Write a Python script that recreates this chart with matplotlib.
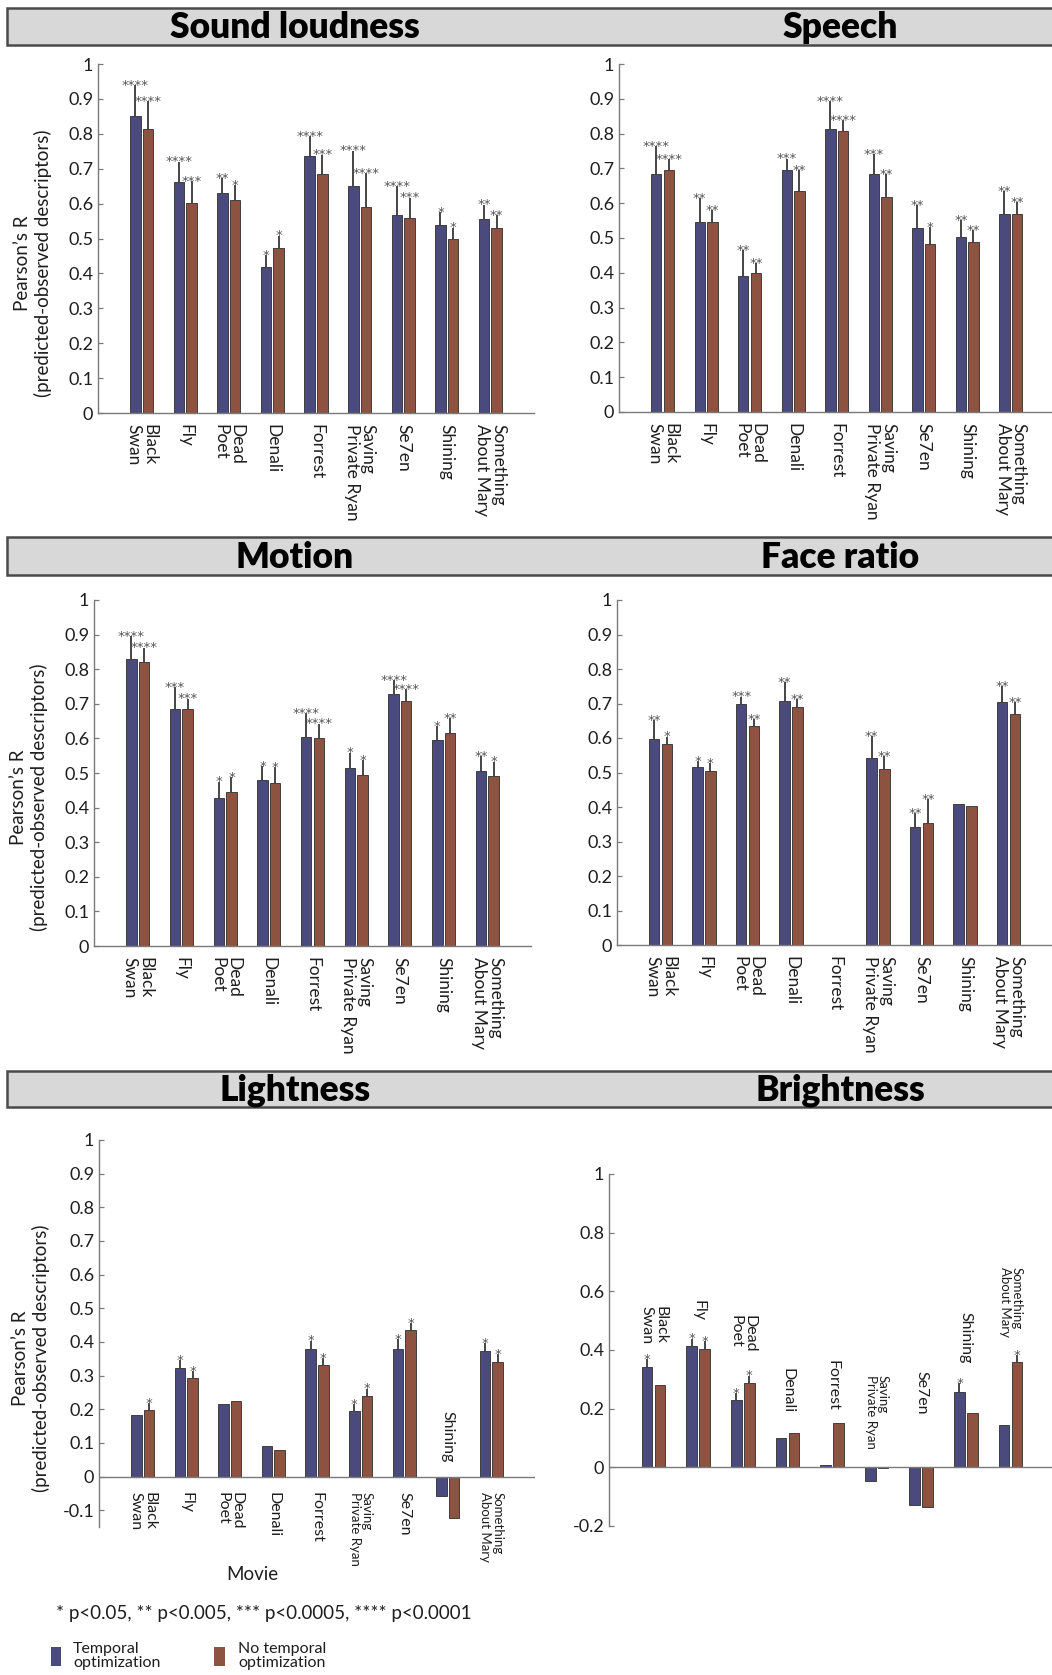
import numpy as np
import matplotlib
matplotlib.use("Agg")
import matplotlib.pyplot as plt
from matplotlib.patches import Rectangle

plt.rcParams['font.family'] = ['Lato', 'DejaVu Sans']

# ---------------------------------------------------------------- data
movies = ["Black\nSwan", "Fly", "Dead\nPoet", "Denali", "Forrest",
          "Saving\nPrivate Ryan", "Se7en", "Shining", "Something\nAbout Mary"]

# Sound loudness
loud_temporal = [0.852, 0.662, 0.630, 0.417, 0.736, 0.651, 0.568, 0.540, 0.555]
loud_temporal_err = [0.087, 0.058, 0.043, 0.036, 0.057, 0.101, 0.082, 0.036, 0.042]
loud_plain = [0.813, 0.603, 0.611, 0.474, 0.685, 0.589, 0.558, 0.500, 0.529]
loud_plain_err = [0.080, 0.061, 0.043, 0.034, 0.055, 0.099, 0.059, 0.031, 0.039]
loud_temporal_sig = ["****", "****", "**", "*", "****", "****", "****", "*", "**"]
loud_plain_sig = ["****", "***", "*", "*", "***", "****", "***", "*", "**"]

# Speech
speech_temporal = [0.683, 0.546, 0.391, 0.696, 0.813, 0.684, 0.528, 0.502, 0.569]
speech_temporal_err = [0.081, 0.068, 0.075, 0.032, 0.080, 0.056, 0.066, 0.049, 0.066]
speech_plain = [0.694, 0.547, 0.400, 0.636, 0.808, 0.619, 0.483, 0.488, 0.569]
speech_plain_err = [0.033, 0.033, 0.027, 0.060, 0.030, 0.065, 0.048, 0.034, 0.035]
speech_temporal_sig = ["****", "**", "**", "***", "****", "***", "**", "**", "**"]
speech_plain_sig = ["****", "**", "**", "**", "****", "**", "*", "**", "**"]

# Motion
motion_temporal = [0.829, 0.685, 0.429, 0.479, 0.605, 0.514, 0.729, 0.594, 0.507]
motion_temporal_err = [0.066, 0.063, 0.046, 0.041, 0.067, 0.045, 0.040, 0.042, 0.041]
motion_plain = [0.820, 0.685, 0.444, 0.472, 0.601, 0.493, 0.709, 0.617, 0.490]
motion_plain_err = [0.042, 0.030, 0.044, 0.045, 0.042, 0.044, 0.034, 0.041, 0.043]
motion_temporal_sig = ["****", "***", "*", "*", "****", "*", "****", "*", "**"]
motion_plain_sig = ["****", "***", "*", "*", "****", "*", "****", "**", "*"]

# Face ratio
face_temporal = [0.597, 0.515, 0.698, 0.708, 0.0, 0.541, 0.342, 0.408, 0.703]
face_temporal_err = [0.055, 0.019, 0.022, 0.053, 0.0, 0.065, 0.041, 0.0, 0.048]
face_plain = [0.583, 0.505, 0.635, 0.691, 0.0, 0.510, 0.354, 0.403, 0.669]
face_plain_err = [0.021, 0.022, 0.020, 0.021, 0.0, 0.038, 0.069, 0.0, 0.036]
face_temporal_sig = ["**", "*", "***", "**", "", "**", "**", "", "**"]
face_plain_sig = ["*", "*", "**", "**", "", "**", "**", "", "**"]

# Lightness
light_temporal = [0.183, 0.323, 0.216, 0.092, 0.378, 0.195, 0.378, -0.058, 0.373]
light_temporal_err = [0.0, 0.022, 0.0, 0.0, 0.026, 0.021, 0.030, 0.0, 0.023]
light_plain = [0.198, 0.293, 0.224, 0.078, 0.331, 0.239, 0.434, -0.124, 0.341]
light_plain_err = [0.020, 0.020, 0.0, 0.0, 0.021, 0.022, 0.021, 0.0, 0.023]
light_temporal_sig = ["", "*", "", "", "*", "*", "*", "", "*"]
light_plain_sig = ["*", "*", "", "", "*", "*", "*", "", "*"]

# Brightness
bright_temporal = [0.341, 0.414, 0.228, 0.101, 0.007, -0.047, -0.128, 0.257, 0.143]
bright_temporal_err = [0.028, 0.025, 0.024, 0.0, 0.0, 0.0, 0.0, 0.029, 0.0]
bright_plain = [0.279, 0.403, 0.288, 0.116, 0.152, -0.002, -0.135, 0.185, 0.358]
bright_plain_err = [0.0, 0.026, 0.025, 0.0, 0.0, 0.0, 0.0, 0.0, 0.025]
bright_temporal_sig = ["*", "*", "*", "", "", "", "", "*", ""]
bright_plain_sig = ["", "*", "*", "", "", "", "", "", "*"]

legend_labels = ["Temporal\noptimization", "No temporal\noptimization"]
footnote = "* p<0.05, ** p<0.005, *** p<0.0005, **** p<0.0001"
ylabel = "Pearson\u2019s R\n(predicted-observed descriptors)"

# ---------------------------------------------------------------- style
BLUE = "#4b4a7c"
BROWN = "#8e5340"
EDGE = "#2e2e2e"
ERR = "#262626"
SPINE = "#7a7a7a"
TXT = "#1e1e1e"
STAR = "#555555"
WIDTH = 0.24
OFF = 0.145

# label heights (data units) for the movie names written above the bars
bright_label_y = [0.42, 0.50, 0.39, 0.185, 0.194, 0.063, 0.181, 0.353, 0.445]

W, H = 1052, 1675
fig = plt.figure(figsize=(W / 100, H / 100), dpi=100)


def fx(x):
    return x / W


def fy(y):
    return 1 - y / H


def make_axes(left, right, top, bottom):
    return fig.add_axes([fx(left), fy(bottom), (right - left) / W, (bottom - top) / H])


def banner(top, bottom, titles):
    fig.add_artist(Rectangle((fx(7), fy(bottom)), fx(1070) - fx(7), (bottom - top) / H,
                             transform=fig.transFigure, facecolor="#d8d8d8",
                             edgecolor="#4a4a4a", lw=1.8, zorder=0))
    for xc, t in titles:
        fig.text(fx(xc), fy((top + bottom) / 2 + 1), t, ha="center", va="center",
                 fontsize=25.5, fontweight="heavy", color="#000000")


def draw_bars(ax, t, te, p, pe, ts, ps):
    x = np.arange(1, len(t) + 1)
    t, te, p, pe = map(np.asarray, (t, te, p, pe))
    ax.bar(x - OFF, t, WIDTH, color=BLUE, edgecolor=EDGE, lw=0.6, zorder=2)
    ax.bar(x + OFF, p, WIDTH, color=BROWN, edgecolor=EDGE, lw=0.6, zorder=2)
    for xs, vals, errs, sig in ((x - OFF, t, te, ts), (x + OFF, p, pe, ps)):
        m = errs > 0
        if m.any():
            ax.errorbar(xs[m], vals[m], yerr=[np.zeros(m.sum()), errs[m]], fmt="none",
                        ecolor=ERR, elinewidth=1.2, capsize=0, zorder=1)
        for xi, v, e, s in zip(xs, vals, errs, sig):
            if s:
                ax.annotate(s, xy=(xi, max(v, 0) + e), xytext=(0, -2.7),
                            textcoords="offset points", ha="center", va="baseline",
                            fontsize=9.5, family="DejaVu Sans", color=STAR,
                            annotation_clip=False)
    return x


def style_axes(ax, ymin, ymax, ticks, ticklabels, xmax):
    ax.set_xlim(0, xmax)
    ax.set_ylim(ymin, ymax)
    ax.set_yticks(ticks)
    ax.set_yticklabels(ticklabels)
    for s in ("top", "right"):
        ax.spines[s].set_visible(False)
    for s in ("left", "bottom"):
        ax.spines[s].set_color(SPINE)
        ax.spines[s].set_linewidth(1.0)
    ax.tick_params(axis="y", direction="in", length=3.5, width=0.9, color=SPINE,
                   labelsize=13, labelcolor=TXT, pad=3.5)
    ax.patch.set_alpha(0)


def tick_labels_below(ax, x):
    ax.set_xticks(x)
    ax.set_xticklabels(movies, rotation=-90, ha="center", va="top",
                       multialignment="left", fontsize=12.5, color=TXT, linespacing=1.0)
    ax.tick_params(axis="x", length=0, pad=8)


tick01 = np.round(np.arange(0, 1.01, 0.1), 1)
tick01_lbl = ["0"] + [f"{v:.1f}" for v in tick01[1:-1]] + ["1"]

# ---------------------------------------------------------------- banners
banner(8, 45, [(295, "Sound loudness"), (840, "Speech")])
banner(537, 575, [(295, "Motion"), (840, "Face ratio")])
banner(1071, 1107, [(295, "Lightness"), (840, "Brightness")])

# ---------------------------------------------------------------- rows 1-2
grid = [
    ((98, 534, 64, 413), 10.0, True,
     (loud_temporal, loud_temporal_err, loud_plain, loud_plain_err, loud_temporal_sig, loud_plain_sig)),
    ((619, 1052, 64, 412), 9.95, False,
     (speech_temporal, speech_temporal_err, speech_plain, speech_plain_err, speech_temporal_sig, speech_plain_sig)),
    ((94, 531, 600, 946), 10.0, True,
     (motion_temporal, motion_temporal_err, motion_plain, motion_plain_err, motion_temporal_sig, motion_plain_sig)),
    ((617, 1052, 600, 945), 10.0, False,
     (face_temporal, face_temporal_err, face_plain, face_plain_err, face_temporal_sig, face_plain_sig)),
]
for box, xmax, with_ylabel, series in grid:
    ax = make_axes(*box)
    x = draw_bars(ax, *series)
    style_axes(ax, 0, 1, tick01, tick01_lbl, xmax)
    tick_labels_below(ax, x)
    if with_ylabel:
        ax.set_ylabel(ylabel, fontsize=13.5, color=TXT, linespacing=1.2)
        ax.yaxis.set_label_coords(-0.106, 0.43)

# ---------------------------------------------------------------- Lightness
ax = make_axes(99, 535, 1140, 1527)
x = draw_bars(ax, light_temporal, light_temporal_err, light_plain, light_plain_err,
              light_temporal_sig, light_plain_sig)
lt = np.round(np.arange(-0.1, 1.01, 0.1), 1)
lt_lbl = ["-0.1", "0"] + [f"{v:.1f}" for v in lt[2:-1]] + ["1"]
style_axes(ax, -0.15, 1, lt, lt_lbl, 10.0)
ax.spines["bottom"].set_visible(False)
ax.axhline(0, color=SPINE, lw=1.0, zorder=3)
ax.set_xticks([])
for xi, name, a, b in zip(x, movies, light_temporal, light_plain):
    small = "\n" in name and len(name) > 12
    above = max(a, b) < 0
    ax.annotate(name, xy=(xi, 0), xytext=(0, 10 if above else -11), textcoords="offset points",
                rotation=-90, ha="center", va="bottom" if above else "top",
                multialignment="left", fontsize=9.5 if small else 11.5, color=TXT,
                linespacing=1.0)
ax.set_ylabel(ylabel, fontsize=13.5, color=TXT, linespacing=1.2)
ax.yaxis.set_label_coords(-0.112, 0.435)

# ---------------------------------------------------------------- Brightness
ax = make_axes(609, 1052, 1174, 1526)
x = draw_bars(ax, bright_temporal, bright_temporal_err, bright_plain, bright_plain_err,
              bright_temporal_sig, bright_plain_sig)
bt = np.round(np.arange(-0.2, 1.01, 0.2), 1)
bt_lbl = ["-0.2", "0", "0.2", "0.4", "0.6", "0.8", "1"]
style_axes(ax, -0.2, 1, bt, bt_lbl, 9.93)
ax.spines["bottom"].set_visible(False)
ax.axhline(0, color=SPINE, lw=1.0, zorder=3)
ax.set_xticks([])
for xi, name, ly in zip(x, movies, bright_label_y):
    small = "\n" in name and len(name) > 12
    ax.annotate(name, xy=(xi, ly), rotation=-90, ha="center", va="bottom",
                multialignment="left", fontsize=9.5 if small else 11.5, color=TXT,
                linespacing=1.0)

# ---------------------------------------------------------------- footer
fig.text(fx(252), fy(1574), "Movie", ha="center", va="center", fontsize=13.5, color=TXT)
fig.text(fx(56), fy(1614), footnote, ha="left", va="center", fontsize=13.5, color=TXT)
for (x0, x1, tx), col, lbl in zip(((51, 61, 73), (214, 225, 238)), (BLUE, BROWN), legend_labels):
    fig.add_artist(Rectangle((fx(x0), fy(1666)), (x1 - x0) / W, 19 / H,
                             transform=fig.transFigure, facecolor=col, edgecolor="none"))
    fig.text(fx(tx), fy(1656), lbl, ha="left", va="center", fontsize=11.5,
             color=TXT, linespacing=1.05)

fig.savefig("out.png", dpi=100, facecolor="white")
